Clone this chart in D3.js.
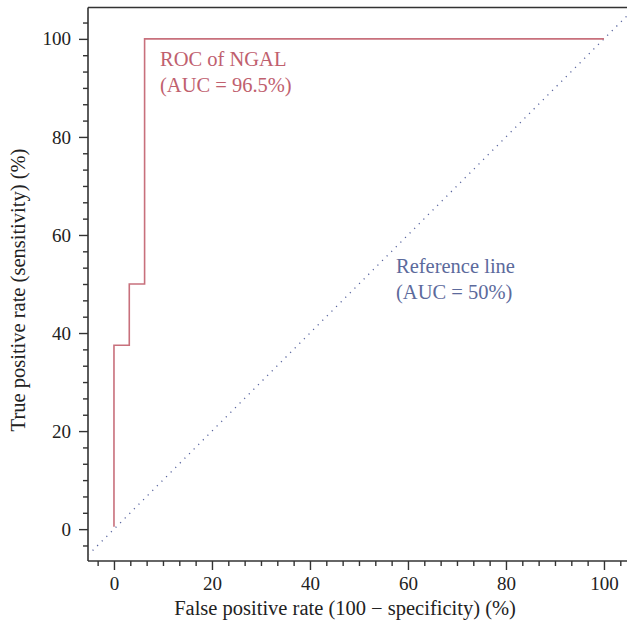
<!DOCTYPE html>
<html><head><meta charset="utf-8">
<script src="https://cdn.jsdelivr.net/npm/d3@7"></script>
<style>body{margin:0;background:#fff}svg text{font-family:"Liberation Serif","DejaVu Serif",serif}</style>
</head><body><svg id="c" width="627" height="629"></svg>
<script>
const rocX = [0, 0, 3.125, 3.125, 6.25, 6.25, 100];
const rocY = [0.5, 37.5, 37.5, 50, 50, 100, 100];
const refX = [-5.3, 105];
const xTicks = [0, 20, 40, 60, 80, 100];
const yTicks = [0, 20, 40, 60, 80, 100];
const labels = {roc: ["ROC of NGAL", "(AUC = 96.5%)"], ref: ["Reference line", "(AUC = 50%)"]};

const svg = d3.select("#c");
const L = 88, R = 627, T = 7.5, B = 561;
const x = d3.scaleLinear().domain([-5.3, 104.7]).range([L, R]);
const y = d3.scaleLinear().domain([-6.5, 106.4]).range([B, T]);
const axisCol = "#333";

const minor = d3.range(-20/6, 106, 20/6).filter(v => Math.abs(v % 20) > 0.01 && Math.abs(v%20 - 20) > 0.01);
const xMinor = minor.filter(v => v >= -5.3 && v <= 104.7);
const yMinor = minor.filter(v => v >= -6.5 && v <= 106.4);

const gx = svg.append("g").attr("transform", `translate(0,${B})`)
  .call(d3.axisBottom(x).tickValues(xMinor).tickSize(5).tickFormat(""));
const gx2 = svg.append("g").attr("transform", `translate(0,${B})`)
  .call(d3.axisBottom(x).tickValues(xTicks).tickSize(9).tickPadding(7).tickFormat(d3.format("d")));
const gy = svg.append("g").attr("transform", `translate(${L},0)`)
  .call(d3.axisLeft(y).tickValues(yMinor).tickSize(5).tickFormat(""));
const gy2 = svg.append("g").attr("transform", `translate(${L},0)`)
  .call(d3.axisLeft(y).tickValues(yTicks).tickSize(9).tickPadding(8).tickFormat(d3.format("d")));
[gx, gx2, gy, gy2].forEach(g => {
  g.select(".domain").remove();
  g.selectAll("line").attr("stroke", axisCol).attr("stroke-width", 1.4);
  g.selectAll("text").attr("fill", "#222").style("font-size", "19px");
});
svg.append("line").attr("x1", L).attr("x2", R).attr("y1", B).attr("y2", B).attr("stroke", axisCol).attr("stroke-width", 1.6);
svg.append("line").attr("x1", L).attr("x2", L).attr("y1", T).attr("y2", B).attr("stroke", axisCol).attr("stroke-width", 1.6);
svg.append("line").attr("x1", L).attr("x2", R).attr("y1", T).attr("y2", T).attr("stroke", axisCol).attr("stroke-width", 1.6);

svg.append("defs").append("clipPath").attr("id", "clip").append("rect")
  .attr("x", L + 1).attr("y", T + 1).attr("width", R - L).attr("height", B - T - 2);

svg.append("line").attr("clip-path", "url(#clip)")
  .attr("x1", x(refX[0])).attr("y1", y(refX[0])).attr("x2", x(refX[1])).attr("y2", y(refX[1]))
  .attr("stroke", "#5a66a0").attr("stroke-width", 1.3).attr("stroke-dasharray", "1.2,5.3");

const line = d3.line().x(d => x(d[0])).y(d => y(d[1]));
svg.append("path").datum(rocX.map((v, i) => [v, rocY[i]]))
  .attr("d", line).attr("fill", "none").attr("stroke", "#c8707c").attr("stroke-width", 1.6);

const rocCol = "#c0606e", refCol = "#5c6a9c";
labels.roc.forEach((t, i) => svg.append("text").attr("x", 160).attr("y", 66 + i * 26)
  .attr("fill", rocCol).style("font-size", "20.5px").text(t));
labels.ref.forEach((t, i) => svg.append("text").attr("x", 396).attr("y", 273 + i * 26)
  .attr("fill", refCol).style("font-size", "20.5px").text(t));

svg.append("text").attr("x", 345).attr("y", 615).attr("text-anchor", "middle")
  .attr("fill", "#222").style("font-size", "20.5px").text("False positive rate (100 \u2212 specificity) (%)");
svg.append("text").attr("transform", `translate(25,290) rotate(-90)`).attr("text-anchor", "middle")
  .attr("fill", "#222").style("font-size", "20.5px").text("True positive rate (sensitivity) (%)");
</script></body></html>
